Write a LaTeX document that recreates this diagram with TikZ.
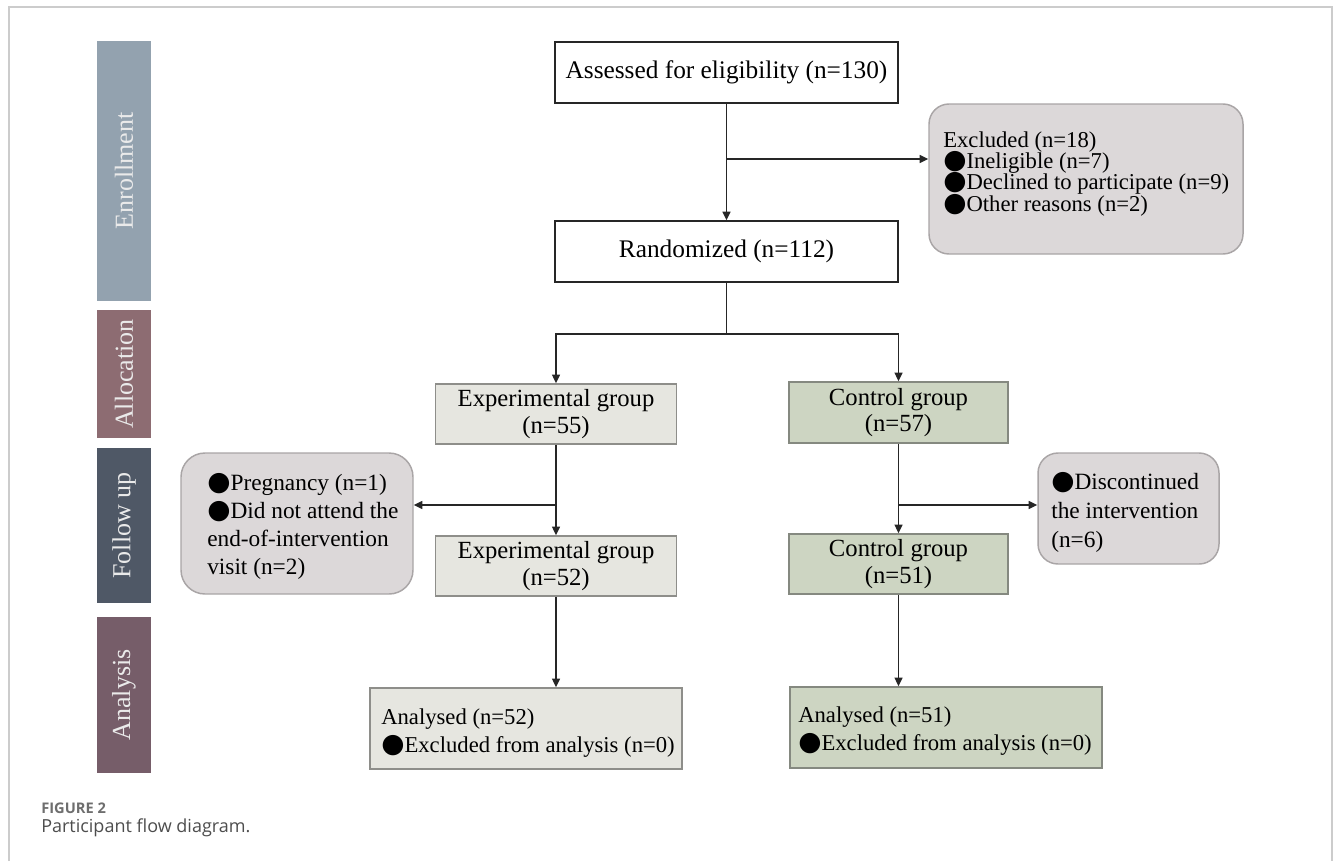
\documentclass[tikz,border=0pt]{standalone}
\usepackage{fontspec}
\setmainfont{Liberation Serif}
\newfontfamily\capfont{Open Sans}
\newfontfamily\symfont{DejaVu Sans}
\usetikzlibrary{arrows.meta}
\definecolor{linec}{HTML}{262626}
\definecolor{frame}{HTML}{CCCCCC}
\definecolor{enrc}{HTML}{93A2AF}
\definecolor{allc}{HTML}{8D6C72}
\definecolor{folc}{HTML}{4F5866}
\definecolor{anac}{HTML}{765D69}
\definecolor{bandtext}{HTML}{EAEAEA}
\definecolor{gfill}{HTML}{DCD8D9}
\definecolor{gdraw}{HTML}{A9A5A6}
\definecolor{efill}{HTML}{E6E6E0}
\definecolor{edraw}{HTML}{8E8E8A}
\definecolor{cfill}{HTML}{CDD5C2}
\definecolor{cdraw}{HTML}{858980}
\definecolor{capgray}{HTML}{6E6E6E}
\definecolor{captext}{HTML}{4D4D4D}
\newcommand\blt{\smash{\symfont\fontsize{20pt}{20pt}\selectfont ●}}
\begin{document}
\begin{tikzpicture}[x=0.75pt,y=-0.75pt,
  ln/.style={draw=linec, line width=1.1pt},
  arr/.style={draw=linec, line width=1.1pt, -{Triangle[length=6.5pt,width=6pt]}},
  mainbox/.style={draw=linec, line width=1.1pt, fill=white, inner sep=0pt,
    font=\fontsize{19pt}{22pt}\selectfont},
  expbox/.style={draw=edraw, fill=efill, line width=1.2pt, inner sep=0pt, align=center,
    font=\fontsize{18.5pt}{20pt}\selectfont},
  ctrbox/.style={draw=cdraw, fill=cfill, line width=1.2pt, inner sep=0pt, align=center,
    font=\fontsize{18.5pt}{20pt}\selectfont},
  gbox/.style={draw=gdraw, fill=gfill, line width=1.1pt, rounded corners=15pt, inner sep=0pt},
  band/.style={rotate=90, inner sep=0pt, text=bandtext, font=\fontsize{19.5pt}{22pt}\selectfont},
  txt/.style={inner sep=0pt, align=left, anchor=base west}
]
\useasboundingbox (0,0) rectangle (1333,861);
% frame
\draw[frame, line width=0.8pt] (9,861) -- (9,7) -- (1332,7) -- (1332,861);

% side bands
\node[band, fill=enrc, minimum width=195pt, minimum height=40.5pt] (enr) at (124,171) {Enrollment};
\node[band, fill=allc, minimum width=96pt, minimum height=40.5pt] (all) at (124,374) {Allocation};
\node[band, fill=folc, minimum width=116.25pt, minimum height=40.5pt] (fol) at (124,525.5) {Follow up};
\node[band, fill=anac, minimum width=117pt, minimum height=40.5pt] (ana) at (124,695) {Analysis};

% main boxes
\node[mainbox, minimum width=257.25pt, minimum height=45.75pt] (assess) at (726.5,72.5) {Assessed for eligibility (n=130)};
\node[mainbox, minimum width=257.25pt, minimum height=45.75pt] (rand) at (726.5,251.5) {Randomized (n=112)};

% excluded
\node[gbox, minimum width=235.5pt, minimum height=112.5pt] (excl) at (1086,179) {};
\node[txt, font={\fontsize{17pt}{16pt}\selectfont\lineskiplimit=-40pt}] (exclt) at (943,211)
  {Excluded (n=18)\\\blt Ineligible (n=7)\\\blt Declined to participate (n=9)\\\blt Other reasons (n=2)};

% groups
\node[expbox, minimum width=180.75pt, minimum height=45pt] (exp1) at (556,414) {Experimental group\\(n=55)};
\node[ctrbox, minimum width=164.25pt, minimum height=45.75pt] (ctr1) at (898.5,412.5) {Control group\\(n=57)};
\node[expbox, minimum width=180.75pt, minimum height=45pt] (exp2) at (556,566) {Experimental group\\(n=52)};
\node[ctrbox, minimum width=164.25pt, minimum height=45pt] (ctr2) at (898.5,564) {Control group\\(n=51)};

% follow-up side boxes
\node[gbox, rounded corners=18pt, minimum width=174pt, minimum height=105.75pt] (fu) at (297,523.5) {};
\node[txt, font=\fontsize{17.5pt}{21pt}\selectfont] (fut) at (207,574)
  {\blt Pregnancy (n=1)\\\blt Did not attend the\\end-of-intervention\\visit (n=2)};
\node[gbox, minimum width=135.75pt, minimum height=83.25pt] (disc) at (1128.5,508.5) {};
\node[txt, font=\fontsize{17.5pt}{21.75pt}\selectfont] (disct) at (1051,547)
  {\blt Discontinued\\the intervention\\(n=6)};

% analysed
\node[expbox, minimum width=234pt, minimum height=60.75pt] (expa) at (526,728.5) {};
\node[txt, font=\fontsize{17pt}{21pt}\selectfont] (expat) at (381,752)
  {Analysed (n=52)\\\blt Excluded from analysis (n=0)};
\node[ctrbox, minimum width=234pt, minimum height=60.75pt] (ctra) at (946,727.5) {};
\node[txt, font=\fontsize{17pt}{21pt}\selectfont] (ctrat) at (798,750)
  {Analysed (n=51)\\\blt Excluded from analysis (n=0)};

% connectors
\draw[arr] (assess.south) -- (rand.north);
\coordinate (b1) at (726.5,159);
\draw[arr] (b1) -- (b1 -| excl.west);
\coordinate (split) at (726.5,334);
\draw[ln] (rand.south) -- (split);
\draw[arr] (split) -| (exp1.north);
\draw[arr] (split) -| (ctr1.north);
\draw[arr] (exp1.south) -- (exp2.north);
\draw[arr] (ctr1.south) -- (ctr2.north);
\coordinate (b2) at (556,505);
\draw[arr] (b2) -- (b2 -| fu.east);
\coordinate (b3) at (898.5,505);
\draw[arr] (b3) -- (b3 -| disc.west);
\draw[arr] (exp2.south) -- (exp2.south |- expa.north);
\draw[arr] (ctr2.south) -- (ctr2.south |- ctra.north);

% caption
\node[txt, text=capgray, font=\capfont\bfseries\fontsize{11pt}{13pt}\selectfont] (figlab) at (41,813) {FIGURE 2};
\node[txt, text=captext, font=\capfont\fontsize{13.5pt}{16pt}\selectfont] (figcap) at (41,832) {Participant flow diagram.};
\end{tikzpicture}
\end{document}
